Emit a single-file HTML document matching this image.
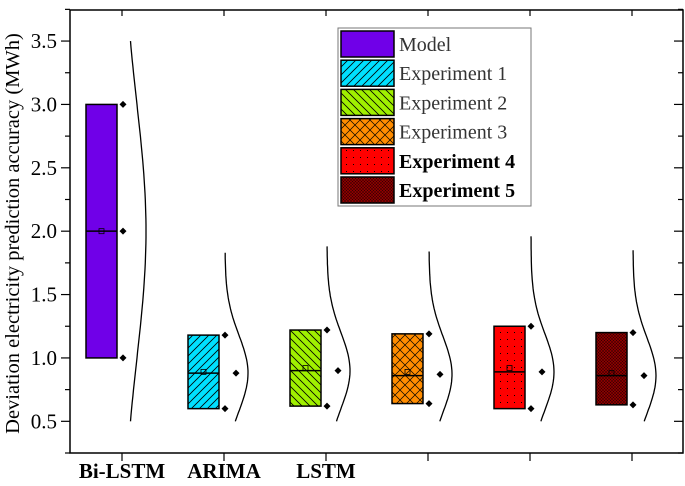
<!DOCTYPE html>
<html><head><meta charset="utf-8"><style>
body{margin:0;background:#fff}
svg{display:block}
text{font-family:"Liberation Serif","Times New Roman",serif}
</style></head><body>
<svg id="chart" width="685" height="486" viewBox="0 0 685 486" xmlns="http://www.w3.org/2000/svg">
<defs>
<pattern id="p1" width="8" height="8" patternUnits="userSpaceOnUse"><rect width="8" height="8" fill="#00E0FF"/><path d="M-2,10 L10,-2 M-2,2 L2,-2 M6,10 L10,6" stroke="#000" stroke-width="0.8"/></pattern>
<pattern id="p2" width="8" height="8" patternUnits="userSpaceOnUse"><rect width="8" height="8" fill="#A0F000"/><path d="M-2,-2 L10,10 M-2,6 L2,10 M6,-2 L10,2" stroke="#000" stroke-width="0.8"/></pattern>
<pattern id="p3" width="10" height="10" patternUnits="userSpaceOnUse"><rect width="10" height="10" fill="#FF8C00"/><path d="M0,0 L10,10 M10,0 L0,10" stroke="#000" stroke-width="0.7"/></pattern>
<pattern id="p4" width="7" height="7" patternUnits="userSpaceOnUse"><rect width="7" height="7" fill="#FF0000"/><rect x="3" y="3" width="1" height="1" fill="#000"/></pattern>
<pattern id="p5" width="3" height="3" patternUnits="userSpaceOnUse"><rect width="3" height="3" fill="#8A0000"/><path d="M0,0 L3,3 M3,0 L0,3" stroke="#300" stroke-width="0.5"/></pattern>
</defs>
<g id="plot"></g>
</svg>
<script>
const categories=["Bi-LSTM","ARIMA","LSTM","","",""];
const q1=[1.0,0.60,0.62,0.64,0.60,0.63];
const q3=[3.0,1.18,1.22,1.19,1.25,1.20];
const medians=[2.0,0.88,0.90,0.86,0.89,0.86];
const means=[2.0,0.89,0.92,0.89,0.92,0.88];
const midPoints=[2.0,0.88,0.90,0.87,0.89,0.86];
const curveMean=[2.0,0.88,0.90,0.87,0.89,0.86];
const curveSd=[1.0,0.3,0.3,0.3,0.3,0.3];
const curveTop=[3.5,1.83,1.88,1.84,1.96,1.85];
const curveBottom=[0.5,0.5,0.5,0.5,0.5,0.5];
const yTicks=[0.5,1.0,1.5,2.0,2.5,3.0,3.5];
const yTickLabels=["0.5","1.0","1.5","2.0","2.5","3.0","3.5"];
const legendLabels=["Model","Experiment 1","Experiment 2","Experiment 3","Experiment 4","Experiment 5"];
const fills=["#7000E8","url(#p1)","url(#p2)","url(#p3)","url(#p4)","url(#p5)"];

const NS="http://www.w3.org/2000/svg";
const FF='"Liberation Serif", "Times New Roman", serif';
const g=document.getElementById('plot');
const L=70,R=683,T=10,B=453,Y0=0.25,Y1=3.745;
const y=v=>B-(v-Y0)/(Y1-Y0)*(B-T);
const x=i=>122+i*102;
function mk(t,a,p){const e=document.createElementNS(NS,t);for(const k in a)e.setAttribute(k,a[k]);if(t==='text')e.setAttribute('font-family',FF);(p||g).appendChild(e);return e;}

let e=mk('rect',{x:L,y:T,width:R-L,height:B-T,fill:'none',stroke:'#000','stroke-width':1.5});


for(let v=0.25;v<=3.75;v+=0.25){
  const major=Math.abs(v*2-Math.round(v*2))<1e-6;
  const len=major?9:5;
  mk('line',{x1:L-len,x2:L,y1:y(v),y2:y(v),stroke:'#000','stroke-width':1.2});
  mk('line',{x1:R-len,x2:R,y1:y(v),y2:y(v),stroke:'#000','stroke-width':1.2});
}
yTicks.forEach((v,i)=>{
  const t=mk('text',{x:57,y:y(v)+7,'text-anchor':'end','font-size':21});t.textContent=yTickLabels[i];
  
});
let yt=mk('text',{x:0,y:0,'text-anchor':'middle','font-size':20.5,transform:`translate(19,${(T+B)/2+2}) rotate(-90)`});
yt.textContent='Deviation electricity prediction accuracy (MWh)';


categories.forEach((c,i)=>{
  const cx=x(i);
  mk('line',{x1:cx,x2:cx,y1:B,y2:B+8,stroke:'#000','stroke-width':1.2});
  mk('line',{x1:cx,x2:cx,y1:T,y2:T+6,stroke:'#000','stroke-width':1.2});
  if(c){const t=mk('text',{x:cx,y:478,'text-anchor':'middle','font-size':21,'font-weight':'bold'});t.textContent=c;
    }
  const b=mk('rect',{x:cx-36,y:y(q3[i]),width:31,height:y(q1[i])-y(q3[i]),fill:fills[i],stroke:'#000','stroke-width':1.5});
  
  mk('line',{x1:cx-36,x2:cx-5,y1:y(medians[i]),y2:y(medians[i]),stroke:'#000','stroke-width':1.5});
  mk('rect',{x:cx-23,y:y(means[i])-2.5,width:5,height:5,fill:'none',stroke:'#000','stroke-width':0.8});
  const off=i===0?1:12;
  [[q3[i],1],[midPoints[i],off],[q1[i],1]].forEach(([v,o])=>{
    const d=mk('path',{d:`M${cx+o},${y(v)-3.5} l3.5,3.5 l-3.5,3.5 l-3.5,-3.5 z`,fill:'#000'});
    
  });
  const amp=23;let pts=[];
  for(let k=0;k<=60;k++){const v=curveBottom[i]+(curveTop[i]-curveBottom[i])*k/60;
    const z=(v-curveMean[i])/curveSd[i];pts.push((cx+1+amp*Math.exp(-z*z/2)).toFixed(1)+','+y(v).toFixed(1));}
  const pl=mk('polyline',{points:pts.join(' '),fill:'none',stroke:'#000','stroke-width':1.3});
  
});

const lg=mk('g',{});

mk('rect',{x:338,y:28,width:193,height:178,fill:'#fff',stroke:'#777','stroke-width':1},lg);
legendLabels.forEach((l,i)=>{
  const yy=31+i*29.2;
  mk('rect',{x:341,y:yy,width:53,height:26,fill:fills[i],stroke:'#000','stroke-width':1.5},lg);
  const t=mk('text',{x:399,y:yy+20,'font-size':20,'font-weight':i>=4?'bold':'normal',fill:i>=4?'#000':'#333'},lg);
  t.textContent=l;
  
});
</script>
</body></html>
